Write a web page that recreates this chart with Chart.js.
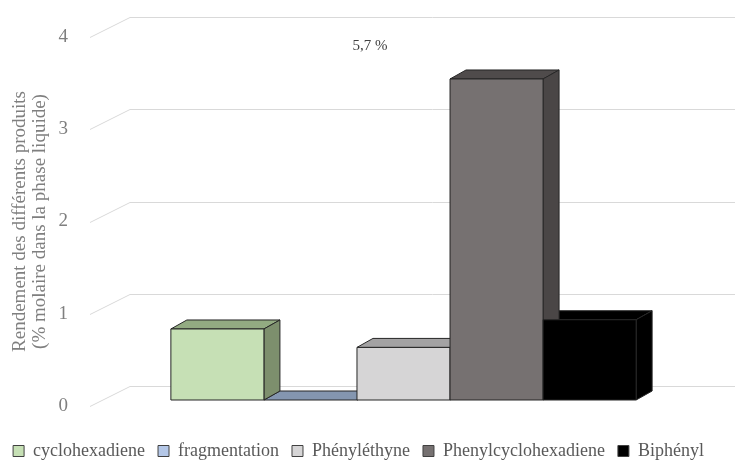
<!DOCTYPE html>
<html>
<head>
<meta charset="utf-8">
<script src="https://cdn.jsdelivr.net/npm/chart.js@4.4.1/dist/chart.umd.min.js"></script>
<style>
  html, body { margin: 0; padding: 0; background: #ffffff; }
  #wrap { width: 739px; height: 463px; }
</style>
</head>
<body>
<div id="wrap"><canvas id="yieldChart"></canvas></div>
<script>
const categories = [""];
const seriesNames = ["cyclohexadiene", "fragmentation", "Phényléthyne", "Phenylcyclohexadiene", "Biphényl"];
const seriesValues = [0.77, 0, 0.57, 3.48, 0.87];
const yTicks = [0, 1, 2, 3, 4];
const noteText = "5,7 %";
const yTitle = ["Rendement des différents produits", "(% molaire dans la phase liquide)"];

const frontColors = ["#c6e0b5", "#b4c7e7", "#d6d5d6", "#767171", "#000000"];
const topColors = ["#93ab82", "#8496b0", "#a3a2a3", "#4f4b4b", "#000000"];
const sideColors = ["#7d8f6d", "#6f7f99", "#8f8e8f", "#4a4646", "#000000"];

const FONT = "'Liberation Serif', 'DejaVu Serif', serif";
const DX = 16, DY = -9;

// faux 3D: back wall grid + top/side faces
const depth3d = {
  id: "depth3d",
  beforeDatasetsDraw(chart) {
    const { ctx, chartArea: area } = chart;
    const y = chart.scales.y;
    ctx.save();
    ctx.strokeStyle = "#d9d9d9";
    ctx.lineWidth = 1;
    yTicks.forEach((v) => {
      const py = Math.round(y.getPixelForValue(v)) + 0.5;
      ctx.beginPath();
      ctx.moveTo(area.left, py);
      ctx.lineTo(area.left + 40, py - 20);
      ctx.lineTo(area.right + 18, py - 20);
      ctx.stroke();
    });
    ctx.restore();
  },
  afterDatasetsDraw(chart) {
    const ctx = chart.ctx;
    const bars = chart.data.datasets.map((ds, i) => chart.getDatasetMeta(i).data[0]);
    const edges = bars.map((b) => ({
      l: b.x - b.width / 2, r: b.x + b.width / 2, t: b.y, b: b.base,
    }));
    const face = (pts, fill) => {
      ctx.beginPath();
      ctx.moveTo(pts[0][0], pts[0][1]);
      pts.slice(1).forEach((p) => ctx.lineTo(p[0], p[1]));
      ctx.closePath();
      ctx.fillStyle = fill;
      ctx.fill();
      ctx.stroke();
    };
    ctx.save();
    ctx.lineWidth = 1;
    ctx.strokeStyle = "#262626";
    ctx.lineJoin = "round";
    edges.forEach((e, i) => {
      face([[e.l, e.t], [e.l + DX, e.t + DY], [e.r + DX, e.t + DY], [e.r, e.t]], topColors[i]);
    });
    edges.forEach((e, i) => {
      face([[e.r, e.t], [e.r + DX, e.t + DY], [e.r + DX, e.b + DY], [e.r, e.b]], sideColors[i]);
    });
    edges.forEach((e, i) => {
      if (e.b - e.t > 0.5) {
        face([[e.l, e.t], [e.r, e.t], [e.r, e.b], [e.l, e.b]], frontColors[i]);
      }
    });
    ctx.restore();
  },
  afterDraw(chart) {
    const ctx = chart.ctx;
    ctx.save();
    ctx.font = "15px " + FONT;
    ctx.fillStyle = "#404040";
    ctx.textAlign = "center";
    ctx.textBaseline = "middle";
    ctx.fillText(noteText, 370, 46);
    ctx.restore();
  },
};

const ctx = document.getElementById("yieldChart");

new Chart(ctx, {
  type: "bar",
  data: {
    labels: categories,
    datasets: seriesNames.map((name, i) => ({
      label: name,
      data: [seriesValues[i]],
      backgroundColor: frontColors[i],
      borderColor: "#404040",
      borderWidth: 1,
      yAxisID: "yBars",
      categoryPercentage: 0.742,
      barPercentage: 1,
    })),
  },
  options: {
    responsive: true,
    maintainAspectRatio: false,
    animation: false,
    layout: {
      padding: { top: 37, right: 22, left: 0, bottom: -7 },
    },
    plugins: {
      tooltip: { enabled: false },
      legend: {
        position: "bottom",
        labels: {
          boxWidth: 11,
          boxHeight: 11,
          padding: 13,
          color: "#595959",
          font: { family: FONT, size: 18, lineHeight: 1 },
        },
      },
    },
    scales: {
      x: {
        display: true,
        grid: { display: false, drawTicks: false },
        border: { display: false },
        ticks: { display: false },
        afterFit: (axis) => {
          axis.height = 23;
        },
      },
      y: {
        min: 0,
        max: 4,
        afterBuildTicks: (axis) => {
          axis.ticks = yTicks.map((value) => ({ value }));
        },
        afterFit: (axis) => {
          axis.width = 90;
        },
        grid: { display: false, drawTicks: false },
        border: { display: false },
        ticks: {
          padding: 22,
          color: "#7f7f7f",
          font: { family: FONT, size: 19 },
        },
        title: {
          display: true,
          text: yTitle,
          color: "#7f7f7f",
          font: { family: FONT, size: 19, lineHeight: 1.05 },
          padding: { top: 10, bottom: 0 },
        },
      },
      yBars: {
        display: false,
        min: -0.065,
        max: 3.935,
      },
    },
  },
  plugins: [depth3d],
});
</script>
</body>
</html>
